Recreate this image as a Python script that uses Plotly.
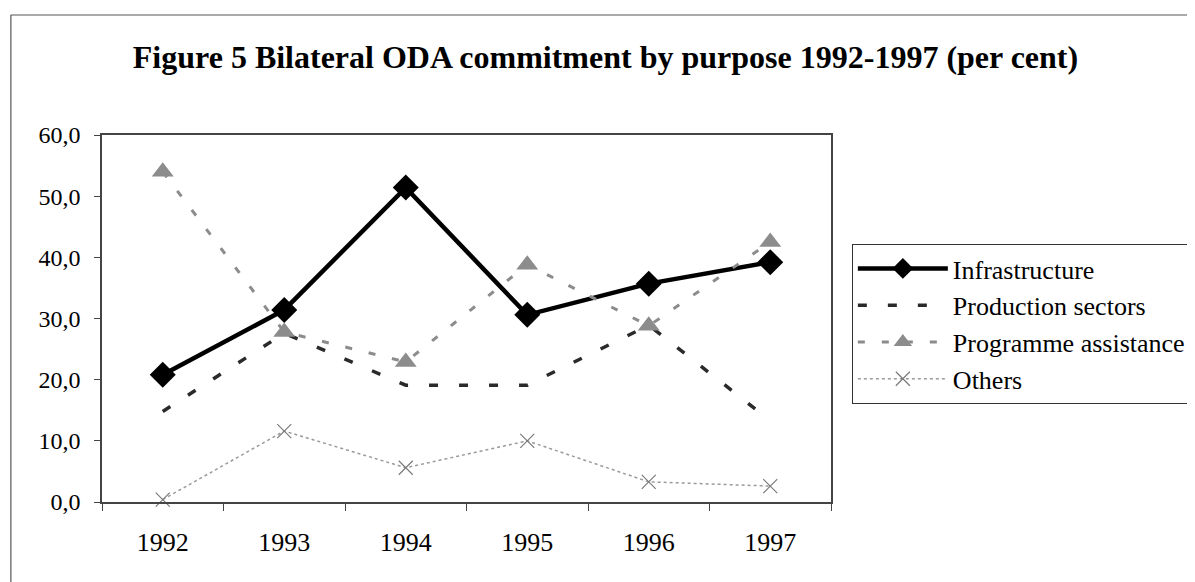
import plotly.graph_objects as go

years = ["1992", "1993", "1994", "1995", "1996", "1997"]
infrastructure = [20.8, 31.4, 51.4, 30.6, 35.7, 39.2]
production_sectors = [14.8, 27.6, 19.1, 19.1, 28.9, 13.3]
programme_assistance = [54.0, 27.8, 22.9, 38.8, 28.8, 42.5]
others = [0.4, 11.6, 5.6, 10.0, 3.3, 2.6]

FONT = "Liberation Serif"

fig = go.Figure()
fig.add_trace(go.Scatter(
    x=years, y=infrastructure, name="Infrastructure", mode="lines+markers",
    line=dict(color="#000000", width=4.5),
    marker=dict(symbol="diamond", size=20, color="#000000"),
    cliponaxis=False))
fig.add_trace(go.Scatter(
    x=years, y=production_sectors, name="Production sectors", mode="lines",
    line=dict(color="#2a2a2a", width=3.5, dash="9px,21px"),
    cliponaxis=False))
fig.add_trace(go.Scatter(
    x=years, y=programme_assistance, name="Programme assistance", mode="lines+markers",
    line=dict(color="#8c8c8c", width=3, dash="7px,17px"),
    marker=dict(symbol="triangle-up", size=19, color="#8c8c8c"),
    cliponaxis=False))
fig.add_trace(go.Scatter(
    x=years, y=others, name="Others", mode="lines+markers",
    line=dict(color="#9a9a9a", width=1.5, dash="dot"),
    marker=dict(symbol="x-thin", size=14, line=dict(color="#7a7a7a", width=1.2)),
    cliponaxis=False))

fig.update_layout(
    width=1195, height=582,
    margin=dict(l=94, r=366, t=127, b=88),
    paper_bgcolor="white", plot_bgcolor="white",
    font=dict(family=FONT, size=26, color="#000000"),
    separators=", ",
    title=dict(text="<b>Figure 5 Bilateral ODA commitment by purpose 1992-1997 (per cent)</b>",
               x=0.5, xanchor="center", y=0.917, yanchor="middle",
               font=dict(family=FONT, size=32, color="#000000")),
    showlegend=True,
    legend=dict(x=1.0286, xanchor="left", y=0.703, yanchor="top",
                bordercolor="#333333", borderwidth=1, bgcolor="white",
                font=dict(family=FONT, size=26, color="#000000"),
                itemwidth=90, tracegroupgap=4),
)

fig.update_xaxes(
    type="category", range=[-0.5, 5.5],
    showline=True, linecolor="#444444", linewidth=1.5, mirror=True,
    showgrid=False, zeroline=False,
    ticks="outside", tickson="boundaries", ticklen=7, tickcolor="#444444",
    ticklabelstandoff=16,
    tickfont=dict(family=FONT, size=26),
)
fig.update_yaxes(
    range=[0, 60], dtick=10, tickformat=".1f",
    showline=True, linecolor="#444444", linewidth=1.5, mirror=True,
    showgrid=False, zeroline=False,
    ticks="outside", ticklen=6, tickcolor="#444444",
    ticklabelstandoff=9,
    tickfont=dict(family=FONT, size=24),
)

# outer chart frame (left and top edges visible in the scan)
fig.add_shape(type="line", xref="paper", yref="paper",
              x0=-0.125, x1=-0.125, y0=1.327, y1=-0.25,
              line=dict(color="#555555", width=1.2))
fig.add_shape(type="line", xref="paper", yref="paper",
              x0=-0.125, x1=1.5, y0=1.327, y1=1.327,
              line=dict(color="#555555", width=1.2))

fig.write_html("out.html")
